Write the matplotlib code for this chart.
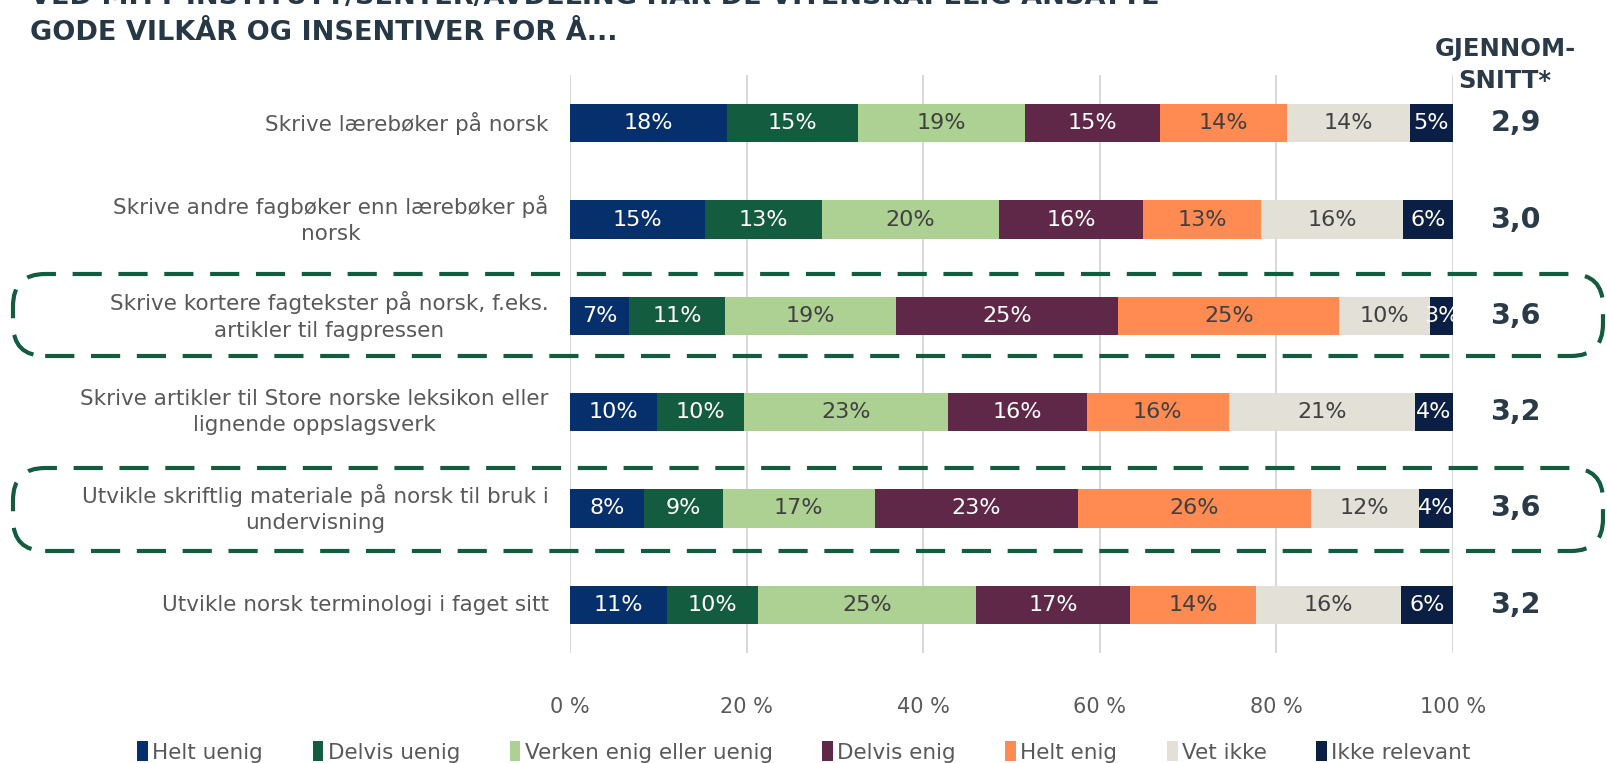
import matplotlib
matplotlib.use("Agg")
import matplotlib.pyplot as plt
from matplotlib.patches import FancyBboxPatch, Patch
import numpy as np

plt.rcParams['font.family'] = ['DejaVu Sans']

categories = [
    "Skrive lærebøker på norsk",
    "Skrive andre fagbøker enn lærebøker på\nnorsk",
    "Skrive kortere fagtekster på norsk, f.eks.\nartikler til fagpressen",
    "Skrive artikler til Store norske leksikon eller\nlignende oppslagsverk",
    "Utvikle skriftlig materiale på norsk til bruk i\nundervisning",
    "Utvikle norsk terminologi i faget sitt",
]
series_names = ["Helt uenig", "Delvis uenig", "Verken enig eller uenig",
                "Delvis enig", "Helt enig", "Vet ikke", "Ikke relevant"]
helt_uenig    = [17.8, 15.3, 6.7, 9.9, 8.4, 11.0]
delvis_uenig  = [14.8, 13.2, 10.8, 9.8, 8.9, 10.3]
verken        = [18.9, 20.1, 19.4, 23.1, 17.2, 24.7]
delvis_enig   = [15.3, 16.3, 25.2, 15.7, 23.0, 17.4]
helt_enig     = [14.4, 13.4, 25.0, 16.1, 26.4, 14.3]
vet_ikke      = [13.9, 16.0, 10.3, 21.1, 12.2, 16.4]
ikke_relevant = [4.9, 5.7, 2.6, 4.3, 3.9, 5.9]
averages = ["2,9", "3,0", "3,6", "3,2", "3,6", "3,2"]
highlighted = [2, 4]
xticks = [0, 20, 40, 60, 80, 100]
xticklabels = ["0 %", "20 %", "40 %", "60 %", "80 %", "100 %"]

series = [helt_uenig, delvis_uenig, verken, delvis_enig, helt_enig, vet_ikke, ikke_relevant]
colors = ["#06306B", "#145C40", "#ADD093", "#5F2848", "#FF8A52", "#E3E0D8", "#0B1F45"]
label_colors = ["white", "white", "#404040", "white", "#404040", "#404040", "white"]

W, H = 1608, 763
fig = plt.figure(figsize=(W / 100, H / 100), dpi=100)
ax = fig.add_axes([570 / W, 1 - 653 / H, 883 / W, 578 / H])

y = np.arange(len(categories))
left = np.zeros(len(categories))
for vals, col, lc, name in zip(series, colors, label_colors, series_names):
    vals = np.array(vals)
    ax.barh(y, vals, left=left, height=0.40, color=col, zorder=3, label=name)
    for yi, (l, v) in enumerate(zip(left, vals)):
        ax.text(l + v / 2, yi, f"{round(v):.0f}%", ha="center", va="center",
                color=lc, fontsize=16, zorder=4)
    left += vals

ax.set_xlim(0, 100)
ax.set_ylim(len(categories) - 0.5, -0.5)
for s in ax.spines.values():
    s.set_visible(False)
ax.set_yticks([])
ax.set_xticks(xticks)
ax.set_xticklabels(xticklabels, color="#595959", fontsize=15)
ax.tick_params(axis="x", length=0, pad=32)
ax.grid(axis="x", color="#D9D9D9", linewidth=1.5, zorder=0)

for yi, cat in enumerate(categories):
    ax.text(-0.024, yi, cat, transform=ax.get_yaxis_transform(),
            ha="right", va="center", multialignment="center",
            color="#595959", fontsize=15.5, linespacing=1.4)
    ax.text(1.071, yi, averages[yi], transform=ax.get_yaxis_transform(),
            ha="center", va="center", color="#2B3A47", fontsize=20.5,
            fontweight="bold")

fig.text(1505 / W, 1 - 65 / H, "GJENNOM-\nSNITT*", ha="center", va="center",
         color="#2B3A47", fontsize=17.5, fontweight="bold", linespacing=1.4)
fig.text(30 / W, 1 - 15 / H,
         "VED MITT INSTITUTT/SENTER/AVDELING HAR DE VITENSKAPELIG ANSATTE\nGODE VILKÅR OG INSENTIVER FOR Å...",
         ha="left", va="center", color="#263746", fontsize=19.5,
         fontweight="bold", linespacing=1.45)

for top, bot in [(274, 356), (468, 551)]:
    box = FancyBboxPatch((13 / W, 1 - bot / H), (1603 - 13) / W, (bot - top) / H,
                         boxstyle="round,pad=0,rounding_size=0.02",
                         transform=fig.transFigure, fill=False,
                         edgecolor="#145C40", linewidth=3, linestyle=(0, (7, 4)),
                         mutation_aspect=W / H, zorder=10)
    fig.patches.append(box)

handles = [Patch(facecolor=c, edgecolor="none") for c in colors]
leg = fig.legend(handles, series_names, loc="center", bbox_to_anchor=(0.5, 1 - 752 / H),
                 ncol=7, frameon=False, fontsize=15.5, handlelength=0.5,
                 handleheight=1.0, handletextpad=0.2, columnspacing=2.3)
for t in leg.get_texts():
    t.set_color("#595959")

fig.savefig("out.png", dpi=100)
